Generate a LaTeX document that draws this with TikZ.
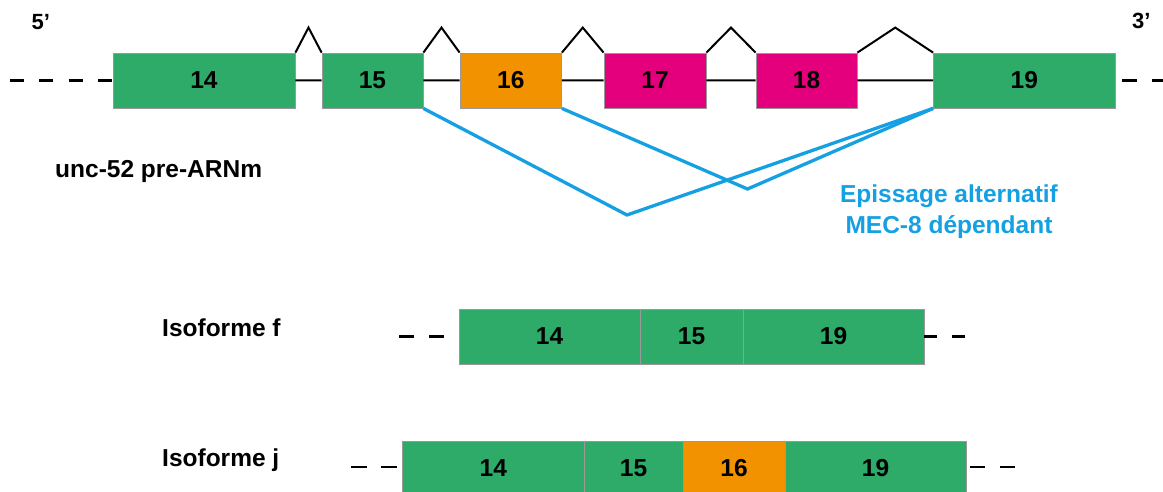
\documentclass[tikz,border=0pt]{standalone}
\usepackage{fontspec}
\setmainfont{Liberation Sans}
\usetikzlibrary{calc}
\definecolor{exgreen}{RGB}{46,170,105}
\definecolor{exorange}{RGB}{242,146,0}
\definecolor{expink}{RGB}{228,0,125}
\definecolor{splblue}{RGB}{20,160,226}

\begin{document}
\begin{tikzpicture}[x=1pt, y=-1pt,
		exon/.style={draw=black!40, line width=0.8pt, minimum height=55pt, inner sep=0pt, font=\bfseries\fontsize{24.5}{29}\selectfont},
		lbl/.style={inner sep=0pt, font=\bfseries\fontsize{24.5}{31}\selectfont},
		intron/.style={line width=2pt},
		ends/.style={line width=2.2pt, dash pattern=on 15pt off 15pt},
		splice/.style={splblue, line width=3.3pt}]
		\useasboundingbox (0,0) rectangle (1163,492);
		\node[exon, fill=exgreen, minimum width=182pt] (e14) at (204,80.5) {14};
		\node[exon, fill=exgreen, minimum width=101pt] (e15) at (372.5,80.5) {15};
		\node[exon, fill=exorange, minimum width=101.5pt] (e16) at (510.75,80.5) {16};
		\node[exon, fill=expink, minimum width=102pt] (e17) at (655,80.5) {17};
		\node[exon, fill=expink, minimum width=101pt] (e18) at (806.5,80.5) {18};
		\node[exon, fill=exgreen, minimum width=181.5pt] (e19) at (1024.25,80.5) {19};
		\foreach \a/\b in {e14/e15, e15/e16, e16/e17, e17/e18, e18/e19}
			\draw[intron] (\a.east) -- (\b.west) (\a.north east) -- ($(\a.north east)!.5!(\b.north west)+(0,-25)$) -- (\b.north west);
		\coordinate (l5) at (9.5,80.5);
		\coordinate (r3) at (1163,80.5);
		\draw[ends, dash pattern=on 14pt off 15.5pt] (l5) -- (e14.west);
		\draw[ends, dash phase=23pt] (e19.east) -- (r3);
		\node[lbl, font=\bfseries\fontsize{22}{26}\selectfont, anchor=base west] (p5) at (31.5,30) {5’};
		\node[lbl, font=\bfseries\fontsize{22}{26}\selectfont, anchor=base west] (p3) at (1132,29) {3’};
		\node[lbl, anchor=base west] (pre) at (55,178) {unc-52 pre-ARNm};

		\coordinate (v1) at (627,215);
		\coordinate (v2) at (747.5,189);
		\draw[splice] (e15.south east) -- (v1) -- (e19.south west);
		\draw[splice] (e16.south east) -- (v2) -- (e19.south west);
		\node[lbl, splblue, align=center] (spl) at (949,212) {Epissage alternatif\\MEC-8 dépendant};

		\node[lbl, anchor=base west] (isf) at (162,336) {Isoforme f};
		\node[exon, fill=exgreen, minimum width=181pt] (f14) at (549.5,336.5) {14};
		\node[exon, fill=exgreen, minimum width=103pt] (f15) at (691.5,336.5) {15};
		\node[exon, fill=exgreen, minimum width=181pt] (f19) at (833.5,336.5) {19};
		\coordinate (fl) at (399,336.5);
		\coordinate (fr) at (966,336.5);
		\draw[ends] (fl) -- (f14.west);
		\draw[ends, dash pattern=on 13pt off 15pt] (f19.east) -- (fr);

		\node[lbl, anchor=base west] (isj) at (162,466.5) {Isoforme j};
		\node[exon, fill=exgreen, minimum width=181.5pt] (j14) at (493.25,468.5) {14};
		\node[exon, fill=exgreen, minimum width=99pt] (j15) at (633.5,468.5) {15};
		\node[exon, fill=exorange, minimum width=102pt] (j16) at (734,468.5) {16};
		\node[exon, fill=exgreen, minimum width=181pt] (j19) at (875.5,468.5) {19};
		\coordinate (jl) at (351,467);
		\coordinate (jr) at (1015,467);
		\draw[ends, dash pattern=on 15.5pt off 14.5pt] (jl) -- (j14.west |- jl);
		\draw[ends, dash phase=26pt] (j19.east |- jr) -- (jr);
	\end{tikzpicture}
\end{document}
